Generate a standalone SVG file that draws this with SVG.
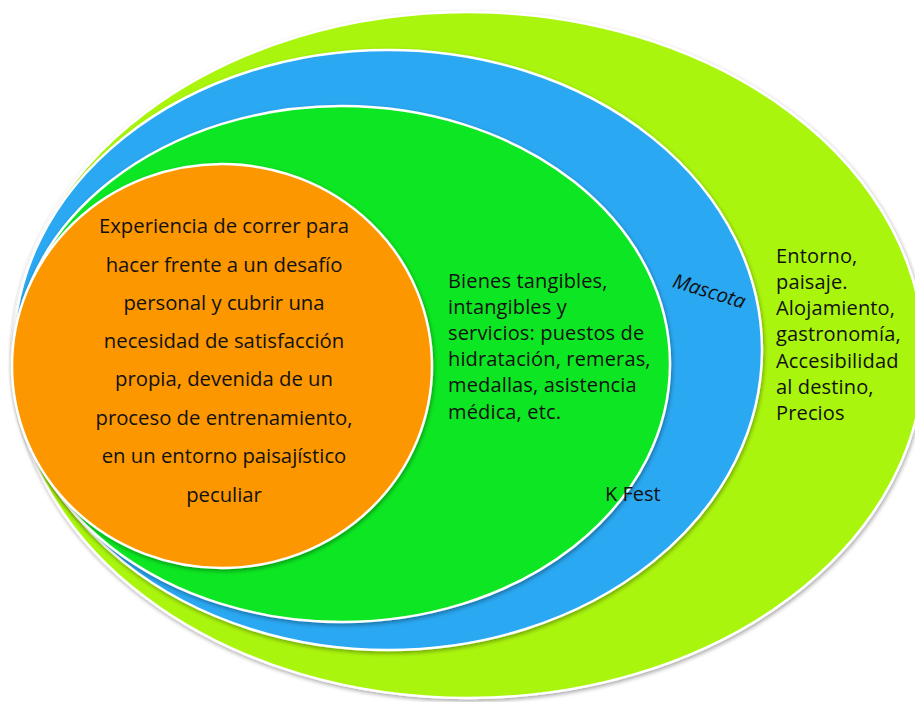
<svg xmlns="http://www.w3.org/2000/svg" width="915" height="702" viewBox="0 0 915 702">
  <defs>
    <filter id="shadow" x="-10%" y="-10%" width="120%" height="120%">
      <feGaussianBlur in="SourceAlpha" stdDeviation="2"/>
      <feOffset dx="1" dy="2" result="off"/>
      <feComponentTransfer><feFuncA type="linear" slope="0.35"/></feComponentTransfer>
      <feMerge><feMergeNode/><feMergeNode in="SourceGraphic"/></feMerge>
    </filter>
  </defs>
  <style>
    .ring { stroke: #ffffff; stroke-width: 2.5; filter: url(#shadow); }
    .txt { font-family: "Open Sans", "Noto Sans", sans-serif; fill: #111111; }
    .c { text-anchor: middle; font-size: 20.3px; }
    .l { font-size: 20px; letter-spacing: 0.15px; }
  </style>
  <rect width="915" height="702" fill="#ffffff"/>

  <!-- outermost ring: destination surroundings -->
  <g id="entorno">
    <ellipse class="ring" cx="468" cy="355" rx="456" ry="343" fill="#aaf50c"/>
    <text class="txt l" x="776" y="263">Entorno,</text>
    <text class="txt l" x="776" y="289">paisaje.</text>
    <text class="txt l" x="776" y="315">Alojamiento,</text>
    <text class="txt l" x="776" y="341">gastronomía,</text>
    <text class="txt l" x="776" y="368">Accesibilidad</text>
    <text class="txt l" x="776" y="394">al destino,</text>
    <text class="txt l" x="776" y="420">Precios</text>
  </g>

  <!-- mascot ring -->
  <g id="mascota">
    <ellipse class="ring" cx="388" cy="350" rx="374" ry="300" fill="#29a8f2"/>
    <text class="txt" x="709" y="298" font-size="20" font-style="italic" text-anchor="middle" transform="rotate(17 709 292)">Mascota</text>
  </g>

  <!-- event goods ring -->
  <g id="kfest">
    <ellipse class="ring" cx="342" cy="364" rx="328" ry="258" fill="#0be620"/>
    <text class="txt l" x="448" y="288">Bienes tangibles,</text>
    <text class="txt l" x="448" y="314">intangibles y</text>
    <text class="txt l" x="448" y="340">servicios: puestos de</text>
    <text class="txt l" x="448" y="366">hidratación, remeras,</text>
    <text class="txt l" x="448" y="392">medallas, asistencia</text>
    <text class="txt l" x="448" y="419">médica, etc.</text>
    <text class="txt" x="605" y="501" font-size="20">K Fest</text>
  </g>

  <!-- core experience -->
  <g id="experiencia">
    <ellipse class="ring" cx="222" cy="366" rx="210" ry="202" fill="#fc9700"/>
    <text class="txt c" x="224" y="233">Experiencia de correr para</text>
    <text class="txt c" x="224" y="272">hacer frente a un desafío</text>
    <text class="txt c" x="224" y="310">personal y cubrir una</text>
    <text class="txt c" x="224" y="348">necesidad de satisfacción</text>
    <text class="txt c" x="224" y="386">propia, devenida de un</text>
    <text class="txt c" x="224" y="425">proceso de entrenamiento,</text>
    <text class="txt c" x="224" y="463">en un entorno paisajístico</text>
    <text class="txt c" x="224" y="502">peculiar</text>
  </g>

  <g id="connectors"/>
</svg>
